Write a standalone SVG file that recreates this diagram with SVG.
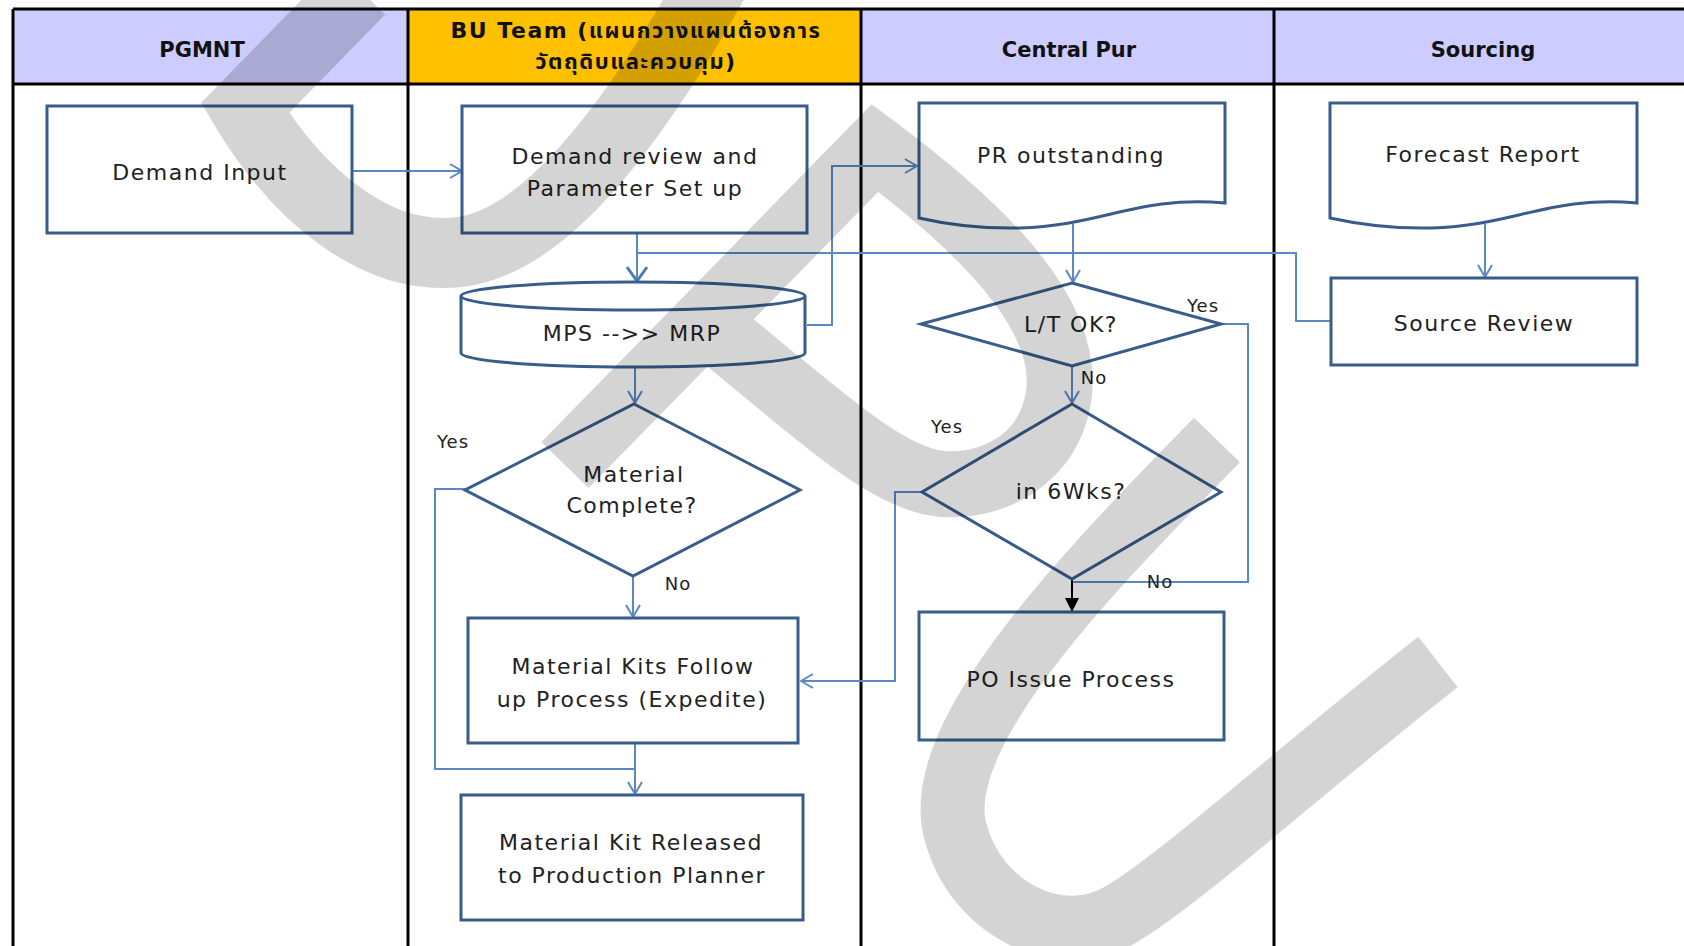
<svg xmlns="http://www.w3.org/2000/svg" width="1684" height="946" viewBox="0 0 1684 946">
<defs>
<style>
.hdr{fill:#ccccff}
.grid{stroke:#000;stroke-width:3;fill:none}
.node{fill:#fff;stroke:#385d8a;stroke-width:3}
.line{fill:none;stroke:#5b88c4;stroke-width:2}
.t{font-family:"DejaVu Sans","Noto Sans",sans-serif;font-size:22px;letter-spacing:1.5px;fill:#222;text-anchor:middle}
.h{font-family:"DejaVu Sans","Noto Sans","Noto Sans Thai",Tahoma,sans-serif;font-size:21px;font-weight:bold;fill:#111;text-anchor:middle}
.th{font-size:22px;letter-spacing:1.5px}
.lbl{font-family:"DejaVu Sans","Noto Sans",sans-serif;font-size:18px;letter-spacing:1px;fill:#222;text-anchor:middle}
.wm{fill:none;stroke:#000;stroke-opacity:0.17;stroke-linecap:butt;stroke-linejoin:miter}
</style>
<marker id="arr" viewBox="0 0 14 16" refX="13" refY="8" markerWidth="14" markerHeight="16" markerUnits="userSpaceOnUse" orient="auto"><path d="M1,1 L13,8 L1,15" fill="none" stroke="#5b88c4" stroke-width="2"/></marker>
<marker id="arrB" viewBox="0 0 16 22" refX="15" refY="11" markerWidth="16" markerHeight="22" markerUnits="userSpaceOnUse" orient="auto"><path d="M1,1 L15,11 L1,21" fill="none" stroke="#4a7ebb" stroke-width="3"/></marker>
<marker id="arrK" viewBox="0 0 14 14" refX="13" refY="7" markerWidth="14" markerHeight="14" markerUnits="userSpaceOnUse" orient="auto"><path d="M0,0 L14,7 L0,14 Z" fill="#000"/></marker>
</defs>
<rect width="1684" height="946" fill="#fff"/>
<g id="lanes">
<rect class="hdr" x="13" y="9" width="395" height="75"/>
<rect x="408" y="9" width="453" height="75" fill="#ffc000"/>
<rect class="hdr" x="861" y="9" width="413" height="75"/>
<rect class="hdr" x="1274" y="9" width="410" height="75"/>
<path class="grid" d="M13 9 H1684 M13 84 H1684 M13 9 V946 M408 9 V946 M861 9 V946 M1274 9 V946"/>
<text class="h" x="202" y="57">PGMNT</text>
<text class="h th" x="636" y="38">BU Team (แผนกวางแผนต้องการ</text>
<text class="h th" x="636" y="69">วัตถุดิบและควบคุม)</text>
<text class="h" x="1069" y="57">Central Pur</text>
<text class="h" x="1483" y="57">Sourcing</text>
</g>
<g id="connectors">
<path class="line" d="M352 171 H462" marker-end="url(#arr)"/>
<path class="line" d="M637 233 V281" stroke-width="2.5" stroke="#4a7ebb" marker-end="url(#arrB)"/>
<path class="line" d="M1331 321 H1296 V253 H637"/>
<path class="line" d="M807 325 H832 V166 H917" marker-end="url(#arr)"/>
<path class="line" d="M635 368 V403" marker-end="url(#arr)"/>
<path class="line" d="M465 489 H435 V769 H635"/>
<path class="line" d="M633 577 V617" marker-end="url(#arr)"/>
<path class="line" d="M635 743 V794" marker-end="url(#arr)"/>
<path class="line" d="M1073 224 V282" marker-end="url(#arr)"/>
<path class="line" d="M1072 366 V403" marker-end="url(#arr)"/>
<path class="line" d="M1221 324 H1248 V582 H1072"/>
<path class="line" d="M922 492 H895 V681 H801" marker-end="url(#arr)"/>
<path d="M1072 580 V611" stroke="#000" stroke-width="2" fill="none" marker-end="url(#arrK)"/>
<path class="line" d="M1485 224 V277" marker-end="url(#arr)"/>
</g>
<g id="demand-input"><rect class="node" x="47" y="106" width="305" height="127"/><text class="t" x="200" y="180">Demand Input</text></g>
<g id="demand-review"><rect class="node" x="462" y="106" width="345" height="127"/><text class="t" x="635" y="164">Demand review and</text><text class="t" x="635" y="196">Parameter Set up</text></g>
<g id="mps-mrp"><path class="node" d="M461 296 A172 14 0 0 1 805 296 V353 A172 14 0 0 1 461 353 Z"/><path class="node" fill="none" d="M461 296 A172 14 0 0 0 805 296"/><text class="t" x="632" y="341">MPS -->> MRP</text></g>
<g id="material-complete"><path class="node" d="M634 404 L800 490 L633 576 L465 490 Z"/><text class="t" x="634" y="482">Material</text><text class="t" x="632" y="513">Complete?</text></g>
<g id="material-kits-follow"><rect class="node" x="468" y="618" width="330" height="125"/><text class="t" x="633" y="674">Material Kits Follow</text><text class="t" x="632" y="707">up Process (Expedite)</text></g>
<g id="material-kit-released"><rect class="node" x="461" y="795" width="342" height="125"/><text class="t" x="631" y="850">Material Kit Released</text><text class="t" x="632" y="883">to Production Planner</text></g>
<g id="pr-outstanding"><path class="node" d="M919 103 H1225 V203 C1140 195 1100 226 1020 228 C975 229 945 224 919 218 Z"/><text class="t" x="1071" y="163">PR outstanding</text></g>
<g id="lt-ok"><path class="node" d="M1072 283 L1221 324 L1072 366 L921 324 Z"/><text class="t" x="1071" y="332">L/T OK?</text></g>
<g id="in-6wks"><path class="node" d="M1072 404 L1221 492 L1072 579 L922 492 Z"/><text class="t" x="1071" y="499">in 6Wks?</text></g>
<g id="po-issue"><rect class="node" x="919" y="612" width="305" height="128"/><text class="t" x="1071" y="687">PO Issue Process</text></g>
<g id="forecast-report"><path class="node" d="M1330 103 H1637 V203 C1552 195 1512 226 1432 228 C1387 229 1357 224 1330 218 Z"/><text class="t" x="1483" y="162">Forecast Report</text></g>
<g id="source-review"><rect class="node" x="1331" y="278" width="306" height="87"/><text class="t" x="1484" y="331">Source Review</text></g>
<g id="labels">
<text class="lbl" x="453" y="448">Yes</text>
<text class="lbl" x="678" y="590">No</text>
<text class="lbl" x="1203" y="312">Yes</text>
<text class="lbl" x="1094" y="384">No</text>
<text class="lbl" x="947" y="433">Yes</text>
<text class="lbl" x="1160" y="588">No</text>
</g>
<g id="watermark">
<path class="wm" stroke-width="70" d="M360 -10 L245 108 C300 200 380 262 460 252 C540 242 625 140 715 -20"/>
<path class="wm" stroke-width="66" d="M565 465 L875 148 C965 215 1075 310 1058 400 C1045 470 975 492 930 482 C880 470 830 425 715 330"/>
<path class="wm" stroke-width="64" d="M1217 440 C1100 560 930 730 955 830 C975 910 1060 950 1120 915 C1180 880 1300 770 1438 662"/>
</g>
</svg>
